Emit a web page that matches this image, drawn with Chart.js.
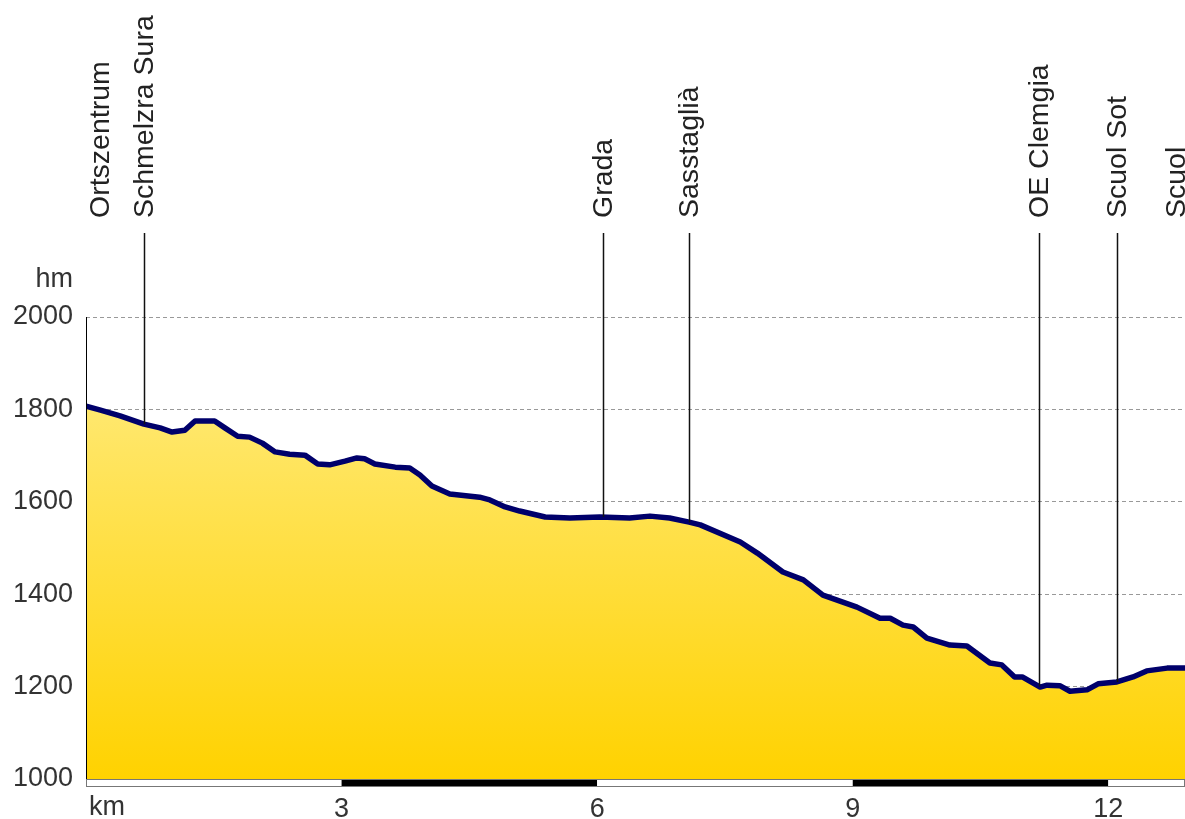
<!DOCTYPE html>
<html>
<head>
<meta charset="utf-8">
<script src="https://cdn.jsdelivr.net/npm/chart.js@4/dist/chart.umd.min.js"></script>
<style>
  html, body { margin: 0; padding: 0; background: #fff; }
  #wrap { width: 1185px; height: 819px; }
</style>
</head>
<body>
<div id="wrap"><canvas id="profile"></canvas></div>
<script>
// profile: distance in km, elevation in m
const km = [0, 0.16, 0.40, 0.68, 0.87, 1.01, 1.16, 1.28, 1.51, 1.63, 1.78, 1.92, 2.07, 2.22, 2.39, 2.57,
    2.72, 2.86, 3.04, 3.18, 3.27, 3.39, 3.63, 3.80, 3.92, 4.06, 4.27, 4.62, 4.74, 4.92, 5.09, 5.39,
    5.68, 6.03, 6.38, 6.62, 6.85, 7.08, 7.21, 7.68, 7.88, 8.18, 8.42, 8.65, 9.05, 9.32, 9.44, 9.59,
    9.71, 9.87, 10.14, 10.34, 10.61, 10.75, 10.90, 10.99, 11.20, 11.28, 11.43, 11.55, 11.75, 11.88,
    12.10, 12.29, 12.45, 12.69, 12.90];
const hm = [1807, 1799, 1786, 1768, 1760, 1751, 1755, 1775, 1775, 1760, 1742, 1740, 1727, 1708, 1703, 1701,
    1682, 1680, 1688, 1695, 1693, 1682, 1675, 1673, 1658, 1634, 1617, 1610, 1604, 1589, 1580, 1567,
    1565, 1567, 1565, 1569, 1565, 1556, 1550, 1513, 1489, 1448, 1431, 1398, 1372, 1348, 1348, 1333,
    1329, 1305, 1290, 1288, 1251, 1247, 1221, 1221, 1199, 1203, 1202, 1190, 1193, 1206,
    1210, 1221, 1234, 1240, 1240];

// stops along the route
const stopNames = ['Ortszentrum', 'Schmelzra Sura', 'Grada', 'Sasstaglià', 'OE Clemgia', 'Scuol Sot', 'Scuol'];
const stopKm = [0, 0.68, 6.07, 7.08, 11.19, 12.10, 12.90];
const stopHm = [1807, 1768, 1567, 1556, 1200, 1210, 1240];

const xTicks = [0, 3, 6, 9, 12];
const yTicks = [1000, 1200, 1400, 1600, 1800, 2000];
const kmMax = 12.9;

const FONT = '"Liberation Sans", Arial, Helvetica, sans-serif';

const decor = {
    id: 'decor',
    afterDraw(chart) {
        const ctx = chart.ctx;
        const x = chart.scales.x, y = chart.scales.y;
        const area = chart.chartArea;
        ctx.save();

        // km scale bar under the plot
        const barTop = area.bottom, barH = 8;
        const edges = [0, 3, 6, 9, 12, kmMax];
        for (let i = 0; i < edges.length - 1; i++) {
            const x0 = x.getPixelForValue(edges[i]);
            const x1 = x.getPixelForValue(edges[i + 1]);
            ctx.fillStyle = i % 2 ? '#000' : '#fff';
            ctx.fillRect(x0, barTop, x1 - x0, barH);
        }
        ctx.strokeStyle = '#777';
        ctx.lineWidth = 1;
        ctx.strokeRect(area.left + 0.5, barTop + 0.5, area.right - area.left - 1, barH - 1);

        // y axis line (solid)
        ctx.strokeStyle = '#000';
        ctx.beginPath();
        ctx.moveTo(area.left + 0.5, area.top);
        ctx.lineTo(area.left + 0.5, area.bottom);
        ctx.stroke();

        // stop lines and labels
        ctx.font = '28.5px ' + FONT;
        ctx.fillStyle = '#222';
        stopNames.forEach((name, i) => {
            const px = x.getPixelForValue(stopKm[i]);
            if (stopKm[i] > 0.1 && stopKm[i] < kmMax - 0.1) {
                ctx.strokeStyle = '#111';
                ctx.lineWidth = 1.5;
                ctx.beginPath();
                ctx.moveTo(Math.round(px) + 0.5, 233);
                ctx.lineTo(Math.round(px) + 0.5, y.getPixelForValue(stopHm[i]));
                ctx.stroke();
            }
            const lx = Math.min(Math.max(px, 100), 1176);
            ctx.save();
            ctx.translate(lx, 218);
            ctx.rotate(-Math.PI / 2);
            ctx.textAlign = 'left';
            ctx.textBaseline = 'middle';
            ctx.fillText(name, 0, 1);
            ctx.restore();
        });

        // unit labels
        ctx.font = '27px ' + FONT;
        ctx.fillStyle = '#333';
        ctx.textAlign = 'right';
        ctx.textBaseline = 'middle';
        ctx.fillText('hm', 73, 280);
        ctx.textAlign = 'left';
        ctx.fillText('km', 89, 808);
        ctx.restore();
    }
};

new Chart(
    document.getElementById('profile'),
    {
        type: 'line',
        data: {
            datasets: [
                {
                    data: km.map((k, i) => ({ x: k, y: hm[i] })),
                    borderColor: '#00006b',
                    borderWidth: 5.5,
                    borderJoinStyle: 'round',
                    pointRadius: 0,
                    tension: 0,
                    fill: 'start',
                    backgroundColor: (c) => {
                        const area = c.chart.chartArea;
                        if (!area) return '#ffd800';
                        const g = c.chart.ctx.createLinearGradient(0, c.chart.scales.y.getPixelForValue(1820), 0, area.bottom);
                        g.addColorStop(0, '#ffe870');
                        g.addColorStop(1, '#ffd200');
                        return g;
                    }
                }
            ]
        },
        options: {
            responsive: true,
            maintainAspectRatio: false,
            animation: false,
            layout: {
                padding: { top: 317, right: 0, left: 0, bottom: 0 }
            },
            scales: {
                x: {
                    type: 'linear',
                    min: 0,
                    max: kmMax,
                    afterBuildTicks: (s) => { s.ticks = xTicks.map(v => ({ value: v })); },
                    afterFit: (s) => { s.height = 40; },
                    grid: { display: false, drawTicks: false },
                    border: { display: true, color: '#000', width: 1 },
                    ticks: {
                        padding: 14,
                        maxRotation: 0,
                        autoSkip: false,
                        color: '#333',
                        font: { family: FONT, size: 27 },
                        callback: (v) => v === 0 ? '' : String(v)
                    }
                },
                y: {
                    min: 1000,
                    max: 2000,
                    afterBuildTicks: (s) => { s.ticks = yTicks.map(v => ({ value: v })); },
                    afterFit: (s) => { s.width = 86; },
                    grid: {
                        drawTicks: false,
                        color: (c) => c.tick && c.tick.value === 1000 ? 'rgba(0,0,0,0)' : '#999',
                        lineWidth: 1
                    },
                    border: { display: false, dash: [4, 3] },
                    ticks: {
                        padding: 13,
                        color: '#333',
                        font: { family: FONT, size: 27 },
                        callback: (v) => String(v)
                    }
                }
            },
            plugins: {
                legend: { display: false },
                tooltip: { enabled: false },
                title: { display: false }
            }
        },
        plugins: [decor]
    }
);
</script>
</body>
</html>
